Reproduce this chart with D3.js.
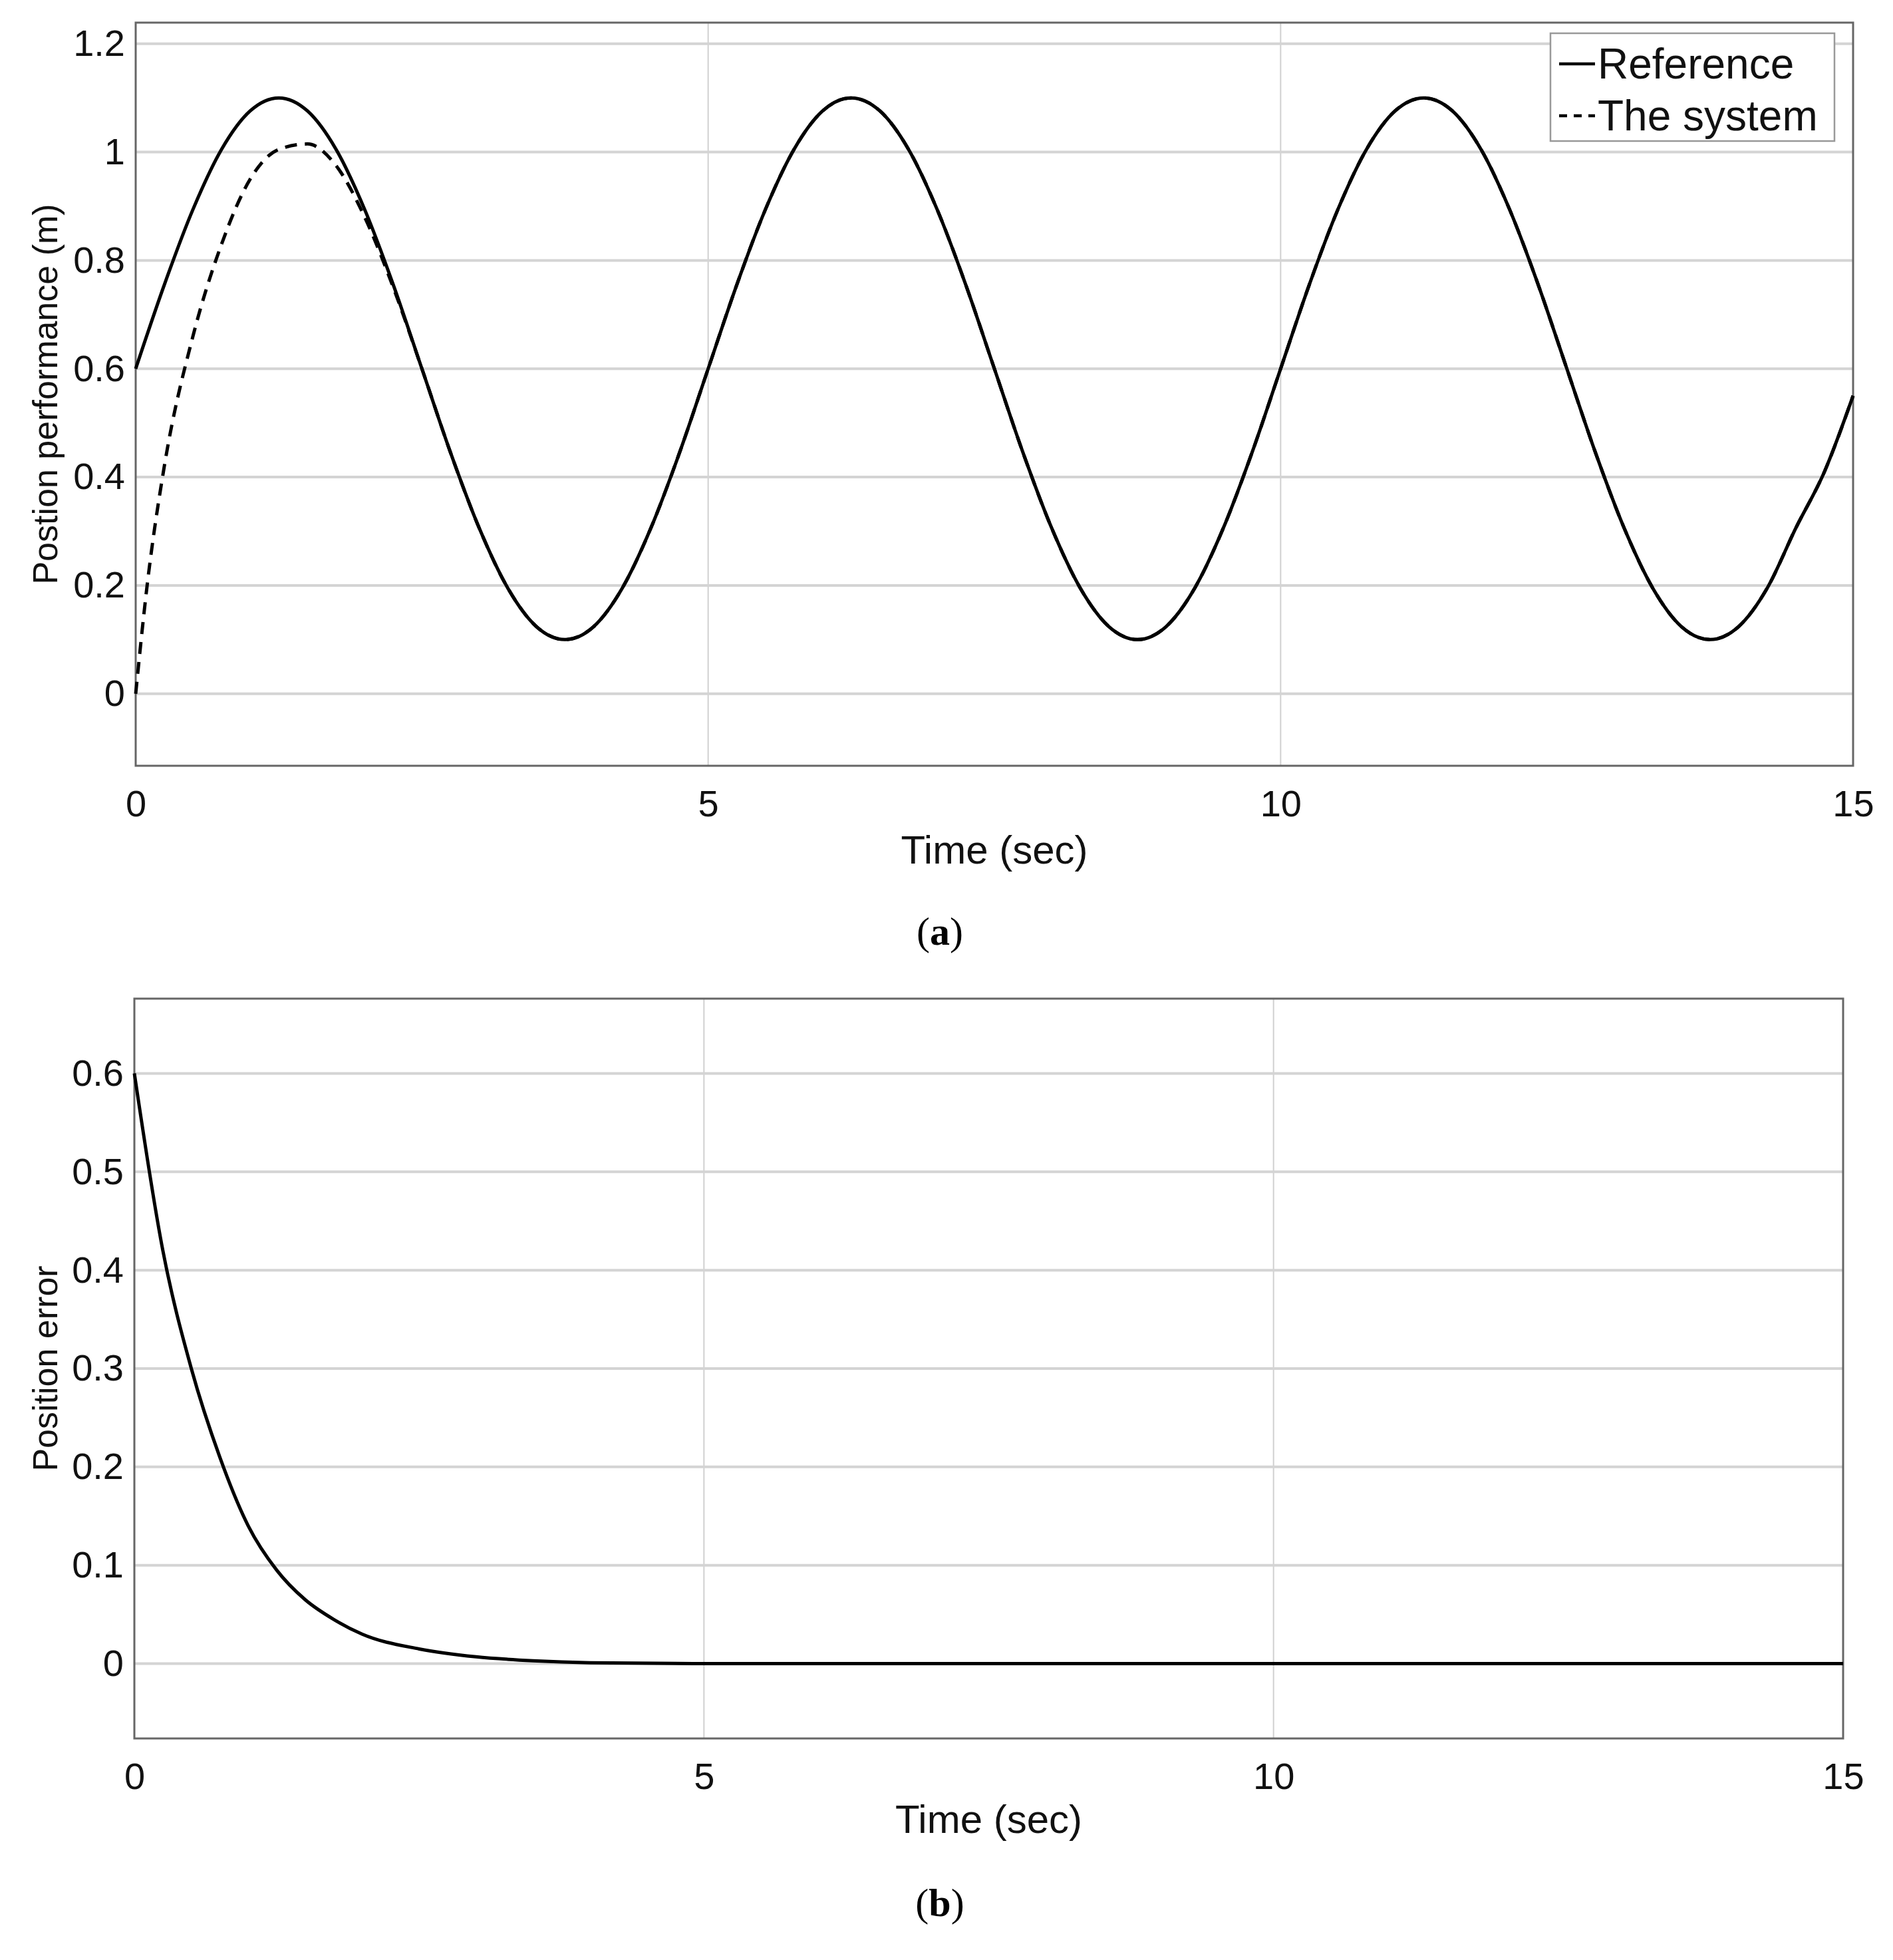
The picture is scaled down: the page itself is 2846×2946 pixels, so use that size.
<!DOCTYPE html>
<html><head><meta charset="utf-8">
<script src="https://cdn.jsdelivr.net/npm/d3@7"></script>
<style>body{margin:0;background:#fff}</style>
</head><body><div id="chart"></div>
<script>
const refPeriod = [0.6,0.755,0.894,1.005,1.076,1.1,1.076,1.005,0.894,0.755,0.6,0.445,0.306,0.195,0.124,0.1,0.124,0.195,0.306,0.445];
const refTimes = d3.range(0, 61).map(i => i * 0.25);
const refValues = refTimes.map((t, i) => refPeriod[i % 20]);
refValues[59] = 0.41;
refValues[60] = 0.55;

const sysTimes = [0,0.1,0.25,0.5,0.75,1.0,1.25,1.5,1.75,2.0,2.25,2.5];
const sysValues = [0,0.2,0.42,0.66,0.83,0.95,1.005,1.015,0.975,0.88,0.75,0.6];

const errTimes = [0,0.25,0.5,0.75,1.0,1.25,1.5,1.75,2.0,2.5,3.0,3.5,4.0,5.0,10,15];
const errValues = [0.6,0.42,0.30,0.21,0.14,0.095,0.065,0.045,0.03,0.015,0.007,0.003,0.001,0,0,0];

const xTicks = [0,5,10,15];
const yTicksA = [0,0.2,0.4,0.6,0.8,1,1.2];
const yTicksB = [0,0.1,0.2,0.3,0.4,0.5,0.6];

const W = 2846, H = 2946;
const svg = d3.select('#chart').append('svg').attr('width', W).attr('height', H);
const FONT = '"Liberation Sans Narrow", "Liberation Sans", Arial, sans-serif';

const refData = refTimes.map((t, i) => ({t, v: refValues[i]}));
const sysData = sysTimes.map((t, i) => ({t, v: sysValues[i]}))
  .concat(refData.filter(d => d.t > 2.5));
const errData = errTimes.map((t, i) => ({t, v: errValues[i]}));

function panel(o) {
  const x = d3.scaleLinear().domain([0, 15]).range([o.left, o.right]);
  const y = d3.scaleLinear().domain(o.yDomain).range([o.bottom, o.top]);
  const g = svg.append('g');

  // grid
  g.selectAll('.gx').data(xTicks).enter().append('line')
    .attr('x1', d => x(d)).attr('x2', d => x(d)).attr('y1', o.top).attr('y2', o.bottom)
    .attr('stroke', '#d0d0d0').attr('stroke-width', 2);
  g.selectAll('.gy').data(o.yTicks).enter().append('line')
    .attr('x1', o.left).attr('x2', o.right).attr('y1', d => y(d)).attr('y2', d => y(d))
    .attr('stroke', '#d4d4d4').attr('stroke-width', 4);

  // axes
  const ax = g.append('g').attr('transform', `translate(0,${o.bottom})`)
    .call(d3.axisBottom(x).tickValues(xTicks).tickSize(0).tickPadding(36).tickFormat(d3.format('d')));
  const ay = g.append('g').attr('transform', `translate(${o.left},0)`)
    .call(d3.axisLeft(y).tickValues(o.yTicks).tickSize(0).tickPadding(16).tickFormat(d => d));
  [ax, ay].forEach(a => {
    a.select('.domain').remove();
    a.selectAll('text').attr('font-family', FONT).attr('font-size', 56).attr('fill', '#111');
  });

  g.append('rect').attr('x', o.left).attr('y', o.top)
    .attr('width', o.right - o.left).attr('height', o.bottom - o.top)
    .attr('fill', 'none').attr('stroke', '#666').attr('stroke-width', 3);

  const line = d3.line().x(d => x(d.t)).y(d => y(d.v)).curve(d3.curveMonotoneX);
  o.series.forEach(s => {
    g.append('path').datum(s.data).attr('d', line).attr('fill', 'none')
      .attr('stroke', '#000').attr('stroke-width', 5)
      .attr('stroke-dasharray', s.dash || null);
  });

  g.append('text').attr('x', (o.left + o.right) / 2).attr('y', o.xTitleY)
    .attr('text-anchor', 'middle').attr('font-family', FONT).attr('font-size', 60)
    .attr('fill', '#111').text('Time (sec)');
  g.append('text').attr('transform', `translate(68,${(o.top + o.bottom) / 2}) rotate(-90)`)
    .attr('text-anchor', 'middle').attr('dy', '0.35em').attr('font-family', 'Liberation Sans, Arial, sans-serif')
    .attr('font-size', 52).attr('fill', '#111').text(o.yTitle);
  g.append('text').attr('x', 1413).attr('y', o.capY).attr('text-anchor', 'middle')
    .attr('font-family', '"Liberation Serif", "Times New Roman", serif').attr('font-size', 60)
    .attr('fill', '#000')
    .html(`(<tspan font-weight="bold">${o.cap}</tspan>)`);
  return g;
}

const gA = panel({left: 204, right: 2786, top: 34, bottom: 1151, yDomain: [-0.133, 1.239],
  yTicks: yTicksA, yTitle: 'Postion performance (m)', xTitleY: 1298, capY: 1420, cap: 'a',
  series: [{data: sysData, dash: '18,12'}, {data: refData}]});

const gB = panel({left: 202, right: 2771, top: 1501, bottom: 2613, yDomain: [-0.076, 0.676],
  yTicks: yTicksB, yTitle: 'Position error', xTitleY: 2755, capY: 2880, cap: 'b',
  series: [{data: errData}]});

// legend
const lg = gA.append('g');
lg.append('rect').attr('x', 2331).attr('y', 50).attr('width', 427).attr('height', 162)
  .attr('fill', '#fff').attr('stroke', '#999').attr('stroke-width', 2.5);
[{label: 'Reference', dash: null, y: 96}, {label: 'The system', dash: '12,10', y: 174}].forEach(d => {
  lg.append('line').attr('x1', 2344).attr('x2', 2398).attr('y1', d.y).attr('y2', d.y)
    .attr('stroke', '#000').attr('stroke-width', 4.5).attr('stroke-dasharray', d.dash);
  lg.append('text').attr('x', 2402).attr('y', d.y).attr('dy', '0.35em')
    .attr('font-family', FONT).attr('font-size', 64).attr('fill', '#111').text(d.label);
});
</script></body></html>
